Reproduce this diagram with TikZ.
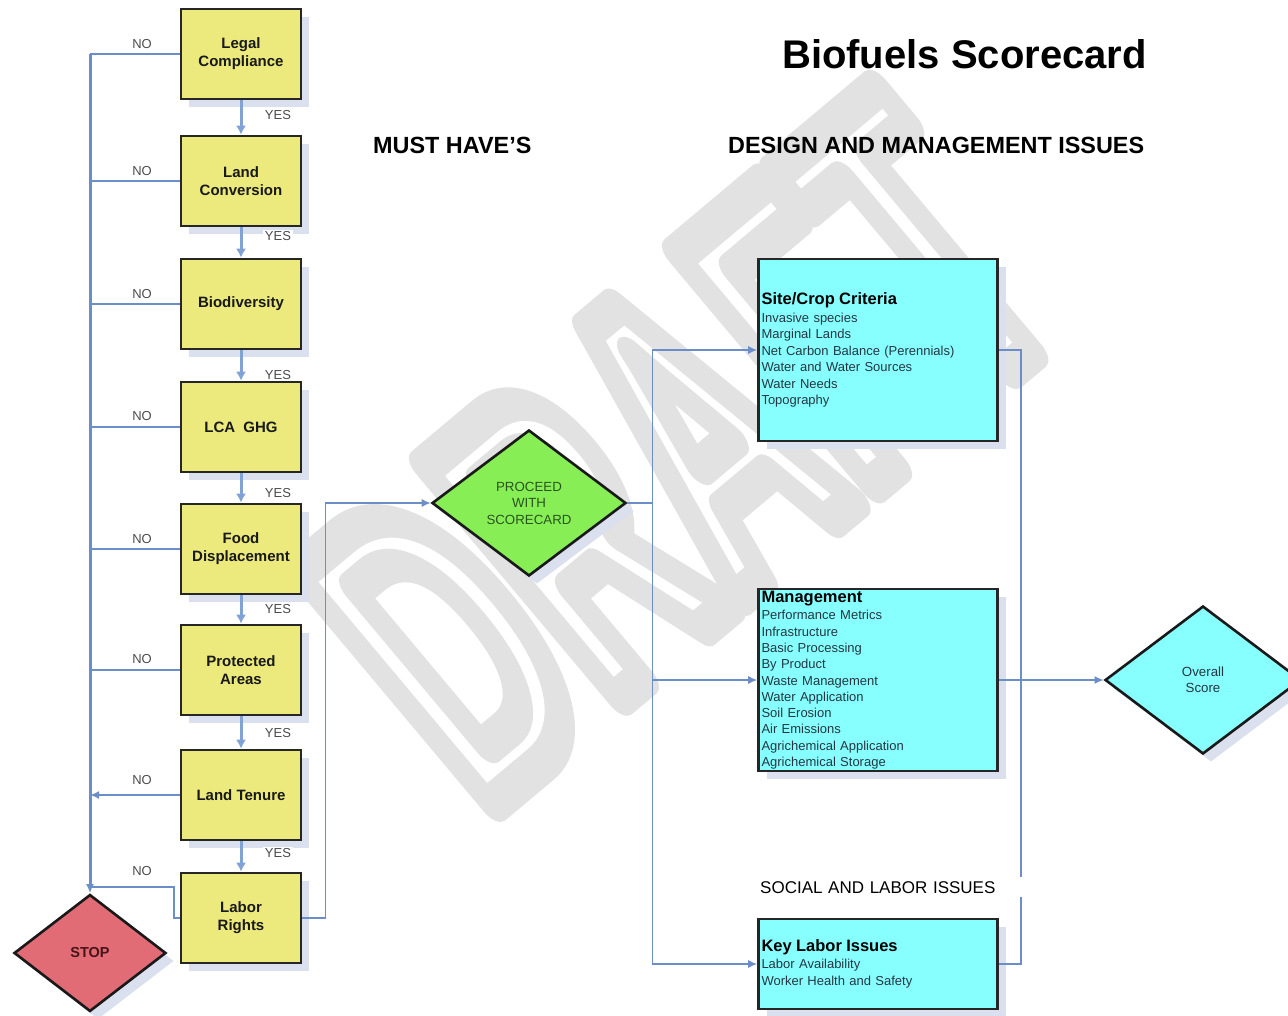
\documentclass[tikz,border=0pt]{standalone}
\usepackage{fontspec}
\setmainfont{Liberation Sans}
\usetikzlibrary{shapes.geometric,shadows,arrows.meta,calc}
\definecolor{ybox}{RGB}{236,234,124}
\definecolor{cbox}{RGB}{136,255,255}
\definecolor{gdia}{RGB}{136,238,85}
\definecolor{rdia}{RGB}{226,108,118}
\definecolor{shad}{RGB}{218,224,238}
\definecolor{conn}{RGB}{108,142,200}
\definecolor{connl}{RGB}{130,162,214}
\definecolor{wmark}{RGB}{226,226,226}
\definecolor{lbl}{RGB}{75,75,75}
\definecolor{itemc}{RGB}{35,55,65}
\definecolor{gtext}{RGB}{40,85,30}
\definecolor{stoptext}{RGB}{70,20,25}
\begin{document}
\begin{tikzpicture}[x=1pt,y=-1pt,
  sh/.style={drop shadow={shadow xshift=8pt,shadow yshift=-8pt,fill=shad,opacity=1}},
  must/.style={rectangle,draw=black!85,line width=2.6pt,fill=ybox,minimum width=120pt,minimum height=90pt,inner sep=2pt,align=center,font=\fontsize{15}{18}\selectfont\bfseries,text=black!90,sh},
  cyanbox/.style={rectangle,draw=black!85,line width=2.6pt,fill=cbox,inner xsep=3pt,inner ysep=0pt,text width=233pt,align=left,font=\fontsize{13}{16.4}\selectfont,text=itemc,sh},
  dia/.style={diamond,draw=black!90,line width=2.6pt,inner sep=0pt,align=center,sh},
  yesno/.style={font=\fontsize{13}{14}\selectfont,text=lbl,inner sep=1.5pt},
  yarrow/.style={draw=connl,line width=3pt,-{Latex[length=9pt,width=10pt]}},
  trunk/.style={draw=conn,line width=3pt},
  noline/.style={draw=conn,line width=2.2pt},
  rconn/.style={draw=conn,line width=1.4pt},
  tip/.style={-{Latex[length=9pt,width=8pt]}}
]
\useasboundingbox (0,0) rectangle (1288,1016);
% watermark
\node[rotate=40,xscale=0.52,text=wmark,font=\fontsize{440}{440}\selectfont\bfseries,inner sep=0pt] (wm) at (680,450) {\special{pdf:literal direct 1 Tr 40 w 1 j}DRAFT};

% titles
\node[anchor=base east,font=\fontsize{40}{44}\selectfont\bfseries,inner sep=0pt] (title) at (1147,69) {Biofuels Scorecard};
\node[anchor=base west,font=\fontsize{23.4}{26}\selectfont\bfseries,inner sep=0pt] (musthave) at (373,154) {MUST HAVE’S};
\node[anchor=base west,font=\fontsize{23.4}{26}\selectfont\bfseries,inner sep=0pt] (design) at (728,154) {DESIGN AND MANAGEMENT ISSUES};

% left column
\node[must] (b1) at (241,54) {Legal\\Compliance};
\node[must] (b2) at (241,181) {Land\\Conversion};
\node[must] (b3) at (241,304) {Biodiversity};
\node[must] (b4) at (241,427) {LCA\ \ GHG};
\node[must] (b5) at (241,549) {Food\\Displacement};
\node[must] (b6) at (241,670) {Protected\\Areas};
\node[must] (b7) at (241,795) {Land Tenure};
\node[must] (b8) at (241,918) {Labor\\Rights};

\node[dia,fill=rdia,minimum width=152pt,minimum height=117pt,font=\fontsize{14.5}{16}\selectfont\bfseries,text=stoptext] (stop) at (90,953) {STOP};

\coordinate (T) at (90,0);
\coordinate (sj) at (90,887);

\draw[yarrow] (b1.south) -- (b2.north);
\draw[yarrow] (b2.south) -- (b3.north);
\draw[yarrow] (b3.south) -- (b4.north);
\draw[yarrow] (b4.south) -- (b5.north);
\draw[yarrow] (b5.south) -- (b6.north);
\draw[yarrow] (b6.south) -- (b7.north);
\draw[yarrow] (b7.south) -- (b8.north);

\draw[trunk,tip] (b1.west -| T) -- (stop.north);
\draw[noline] (b1.west) -- (b1.west -| T);
\draw[noline] (b2.west) -- (b2.west -| T);
\draw[noline] (b3.west) -- (b3.west -| T);
\draw[noline] (b4.west) -- (b4.west -| T);
\draw[noline] (b5.west) -- (b5.west -| T);
\draw[noline] (b6.west) -- (b6.west -| T);
\draw[noline,tip] (b7.west) -- (b7.west -| T);
\draw[noline] (b8.west) -- ++(-6,0) |- (sj);

\node[yesno] (n1) at (142,44) {NO};
\node[yesno] (n2) at (142,171) {NO};
\node[yesno] (n3) at (142,294) {NO};
\node[yesno] (n4) at (142,416) {NO};
\node[yesno] (n5) at (142,539) {NO};
\node[yesno] (n6) at (142,659) {NO};
\node[yesno] (n7) at (142,780) {NO};
\node[yesno] (n8) at (142,871) {NO};

\node[yesno,fill=white] (y1) at (278,115) {YES};
\node[yesno,fill=white] (y2) at (278,236) {YES};
\node[yesno,fill=white] (y3) at (278,375) {YES};
\node[yesno,fill=white] (y4) at (278,493) {YES};
\node[yesno,fill=white] (y5) at (278,609) {YES};
\node[yesno,fill=white] (y6) at (278,733) {YES};
\node[yesno,fill=white] (y7) at (278,853) {YES};

% proceed
\node[dia,fill=gdia,minimum width=194pt,minimum height=146pt,font=\fontsize{13.3}{16.5}\selectfont,text=gtext] (proceed) at (529,503) {PROCEED\\WITH\\SCORECARD};
\draw[rconn,tip] (b8.east) -- ++(23,0) |- (proceed.west);

% right boxes
\node[cyanbox,minimum height=182pt] (site) at (878,350) {{\color{black}\fontsize{16.5}{18}\selectfont\bfseries Site/Crop Criteria}\\[1.5pt]Invasive species\\Marginal Lands\\Net Carbon Balance (Perennials)\\Water and Water Sources\\Water Needs\\Topography};
\node[cyanbox,minimum height=182pt,font=\fontsize{13}{16.3}\selectfont] (mgmt) at (878,680) {{\color{black}\fontsize{16.5}{18}\selectfont\bfseries Management}\\[1.5pt]Performance Metrics\\Infrastructure\\Basic Processing\\By Product\\Waste Management\\Water Application\\Soil Erosion\\Air Emissions\\Agrichemical Application\\Agrichemical Storage};
\node[cyanbox,minimum height=90pt,font=\fontsize{13}{17}\selectfont] (labor) at (878,964) {{\color{black}\fontsize{16.5}{19}\selectfont\bfseries Key Labor Issues}\\Labor Availability\\Worker Health and Safety};

\node[dia,fill=cbox,minimum width=196pt,minimum height=148pt,font=\fontsize{13.3}{16}\selectfont,text=itemc] (overall) at (1203,680) {Overall\\Score};

\coordinate (sp) at ($(proceed.east)+(25,0)$);
\draw[rconn] (proceed.east) -- (sp);
\draw[rconn,tip] (sp) |- (site.west);
\draw[rconn,tip] (sp) |- (mgmt.west);
\draw[rconn,tip] (sp) |- (labor.west);
\draw[rconn] (site.east) -- ++(22,0) |- (labor.east);
\draw[rconn,line width=2pt,tip] (mgmt.east) -- (overall.west);

\node[anchor=base west,fill=white,inner xsep=0pt,inner ysep=4pt,text width=270pt,align=left,font=\fontsize{17}{20}\selectfont] (social) at (760,893) {SOCIAL AND LABOR ISSUES};
\end{tikzpicture}
\end{document}
